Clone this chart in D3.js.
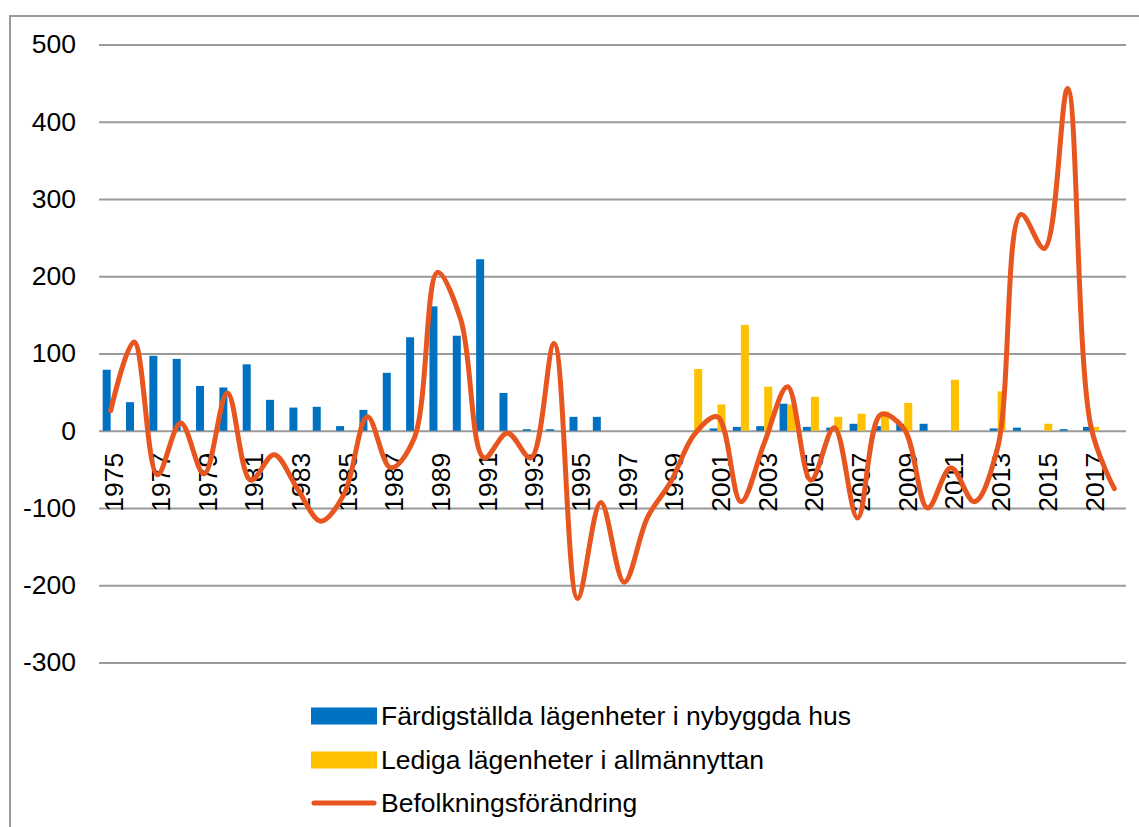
<!DOCTYPE html>
<html>
<head>
<meta charset="utf-8">
<script src="https://cdn.jsdelivr.net/npm/d3@7"></script>
<style>
  body { margin: 0; background: #fff; }
  text { font-family: "Liberation Sans", Arial, sans-serif; fill: #000; }
</style>
</head>
<body>
<div class="container"></div>
<script>
const years = d3.range(1975, 2019);

const completed = [79, 37, 97, 93, 58, 56, 86, 40, 30, 31, 6, 27, 75, 121, 161, 123, 222, 49, 2, 2,
  18, 18, 0, 0, 0, 0, 3, 5, 6, 35, 5, 4, 9, 6, 9, 9, 0, 0, 3, 4, 0, 2, 5, 0];

const vacant = [0, 0, 0, 0, 0, 0, 0, 0, 0, 0, 0, 0, 0, 0, 0, 0, 0, 0, 0, 0,
  0, 0, 0, 0, 0, 80, 34, 137, 57, 34, 44, 18, 22, 25, 36, 0, 66, 0, 51, 0, 9, 0, 5, 0];

const popChange = [26, 115, -57, 10, -56, 49, -64, -31, -75, -117, -82, 18, -48, -10, 205, 144, -35, -3, -35, 113,
  -217, -93, -196, -112, -66, -5, 18, -92, -16, 57, -64, 4, -113, 21, 2, -100, -48, -92, -22, 280, 236, 443, 5, -75];

const yTicks = [500, 400, 300, 200, 100, 0, -100, -200, -300];

const seriesNames = ['Färdigställda lägenheter i nybyggda hus', 'Lediga lägenheter i allmännyttan', 'Befolkningsförändring'];
const colors = ['#0070C0', '#FFC000', '#E8561F'];

const width = 1139;
const height = 827;
const margin = { top: 44.5, right: 1126, bottom: 662.5, left: 99 };

const svg = d3.select('.container')
  .append('svg')
  .attr('width', width)
  .attr('height', height);

// outer frame (only left and top edges are visible)
svg.append('rect')
  .attr('x', 10).attr('y', 16)
  .attr('width', 1160).attr('height', 840)
  .attr('fill', 'none')
  .attr('stroke', '#9a9a9a')
  .attr('stroke-width', 2);

const xScale = d3.scaleBand()
  .domain(years)
  .range([margin.left, margin.right]);

const xInner = d3.scaleBand()
  .domain([0, 1])
  .range([0, xScale.bandwidth()])
  .paddingOuter(0.46);

const yScale = d3.scaleLinear()
  .domain([-300, 500])
  .range([margin.bottom, margin.top]);

// gridlines
const yAxis = d3.axisLeft(yScale)
  .tickValues(yTicks)
  .tickFormat(d => String(d))
  .tickSize(-(margin.right - margin.left))
  .tickPadding(23);

const gY = svg.append('g')
  .attr('transform', `translate(${margin.left},0)`)
  .call(yAxis);
gY.select('.domain').remove();
gY.selectAll('.tick line').attr('stroke', '#9a9a9a').attr('stroke-width', 2);
gY.selectAll('.tick text')
  .style('font-size', '26.5px')
  .attr('fill', '#000');

// bars
const bars = svg.append('g');
[completed, vacant].forEach((data, s) => {
  bars.selectAll(null)
    .data(data)
    .join('rect')
    .attr('x', (d, i) => xScale(years[i]) + xInner(s))
    .attr('width', xInner.bandwidth())
    .attr('y', d => yScale(Math.max(0, d)))
    .attr('height', d => Math.abs(yScale(d) - yScale(0)))
    .attr('fill', colors[s]);
});

// category labels below zero line
const xLabels = years.filter((y, i) => i % 2 === 0);
svg.append('g')
  .selectAll('text')
  .data(xLabels)
  .join('text')
  .attr('transform', d => `translate(${xScale(d) + xScale.bandwidth() / 2 + 3},${yScale(0) + 22}) rotate(-90)`)
  .attr('text-anchor', 'end')
  .attr('dy', '0.36em')
  .style('font-size', '26.5px')
  .text(d => d);

// population line
const line = d3.line()
  .x((d, i) => xScale(years[i]) + xScale.bandwidth() / 2)
  .y(d => yScale(d))
  .curve(d3.curveCatmullRom.alpha(0.5));

svg.append('path')
  .attr('d', line(popChange))
  .attr('fill', 'none')
  .attr('stroke', colors[2])
  .attr('stroke-width', 5)
  .attr('stroke-linecap', 'round')
  .attr('stroke-linejoin', 'round');

// legend
const legend = svg.append('g');
const legendY = [716, 760, 803];
seriesNames.forEach((name, i) => {
  if (i < 2) {
    legend.append('rect')
      .attr('x', 311).attr('y', legendY[i] - 8.5)
      .attr('width', 66).attr('height', 17)
      .attr('fill', colors[i]);
  } else {
    legend.append('line')
      .attr('x1', 314).attr('x2', 374)
      .attr('y1', legendY[i]).attr('y2', legendY[i])
      .attr('stroke', colors[i])
      .attr('stroke-width', 5)
      .attr('stroke-linecap', 'round');
  }
  legend.append('text')
    .attr('x', 381)
    .attr('y', legendY[i])
    .attr('dy', '0.35em')
    .style('font-size', '26.5px')
    .text(name);
});
</script>
</body>
</html>
